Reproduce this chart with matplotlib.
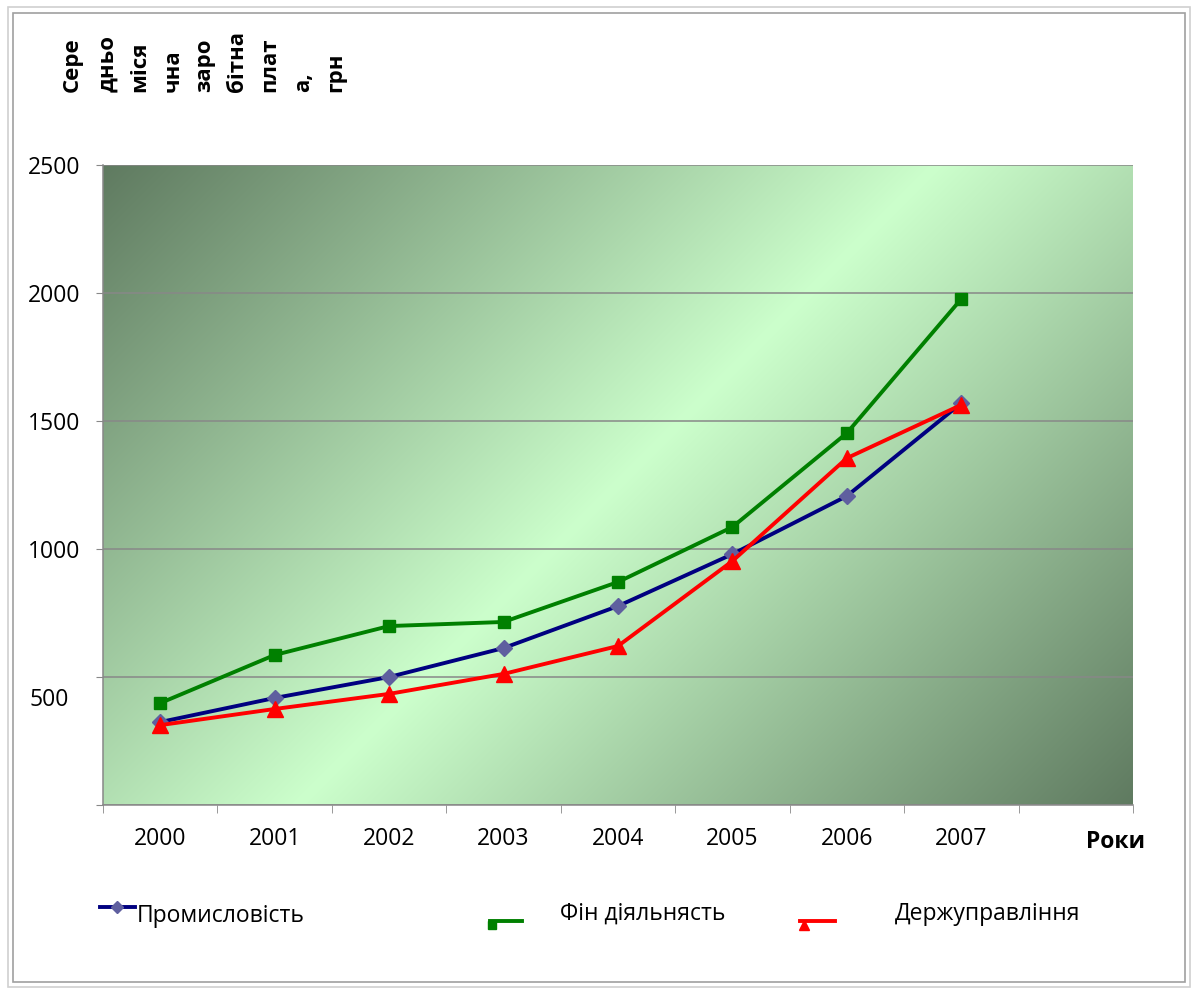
import numpy as np
import matplotlib
matplotlib.use('Agg')
import matplotlib.pyplot as plt
import matplotlib.transforms as mtrans
from matplotlib.lines import Line2D
from matplotlib.patches import Rectangle

plt.rcParams['font.family'] = ['Open Sans', 'DejaVu Sans']

# data
years = ['2000', '2001', '2002', '2003', '2004', '2005', '2006', '2007']
prom = [324, 418, 500, 613, 777, 980, 1207, 1570]
fin = [398, 586, 699, 715, 871, 1086, 1453, 1977]
derzh = [312, 375, 434, 512, 621, 953, 1355, 1563]
y_ticks = [0, 500, 1000, 1500, 2000, 2500]
y_labels = ['', '500', '1000', '1500', '2000', '2500']
ylabel_parts = ['Сере', 'дньо', 'міся', 'чна', 'заро', 'бітна', 'плат', 'а,', 'грн']

W, H = 1197, 992


def fx(px):
    return px / W


def fy(py):
    return 1 - py / H


fig = plt.figure(figsize=(W / 100, H / 100), dpi=100)
fig.patch.set_facecolor('white')
ax = fig.add_axes([fx(103), fy(805), fx(1133) - fx(103), fy(165) - fy(805)])

# diagonal gradient background of the plot area
nx, ny = 1030, 640
gx = np.linspace(-515, 515, nx)
gy = np.linspace(-320, 320, ny)
GX, GY = np.meshgrid(gx, gy)
u = np.clip(np.abs(GX + GY) / 835.0, 0, 1)[..., None]
light = np.array([204, 255, 204]) / 255
dark = np.array([95, 122, 96]) / 255
img = light + (dark - light) * u
ax.imshow(img, extent=[0, 1, 0, 1], transform=ax.transAxes, aspect='auto',
          origin='upper', zorder=0)

x = np.arange(len(years))
ax.plot(x, prom, color='#000080', lw=2.8, marker='D', ms=8.5,
        mfc='#5f5f9f', mec='#5f5f9f', zorder=3)
ax.plot(x, fin, color='#008000', lw=2.8, marker='s', ms=8.5,
        mfc='#008000', mec='#008000', zorder=4)
ax.plot(x, derzh, color='#ff0000', lw=2.8, marker='^', ms=11,
        mfc='#ff0000', mec='#ff0000', zorder=5)

ax.set_xlim(-0.5, 8.5)
ax.set_ylim(0, 2500)
ax.set_yticks(y_ticks)
ax.set_yticklabels(y_labels, fontsize=16.5)
ax.yaxis.grid(True, color='#888888', lw=1.1)
ax.set_axisbelow(False)
for gl in ax.get_ygridlines():
    gl.set_zorder(1)

ax.set_xticks(x)
ax.set_xticklabels(years, fontsize=16.5)
ax.set_xticks(np.arange(-0.5, 9.0, 1.0), minor=True)
ax.tick_params(axis='x', which='major', length=0, pad=16)
ax.tick_params(axis='x', which='minor', length=6, color='#888888', direction='out')
ax.tick_params(axis='y', length=5, color='#888888', direction='out', pad=11)

# the "500" label sits lower and further left in the original
lab500 = ax.get_yticklabels()[1]
lab500.set_transform(lab500.get_transform() +
                     mtrans.ScaledTranslation(-12 / 100, -20 / 100, fig.dpi_scale_trans))

for side in ['top', 'right']:
    ax.spines[side].set_visible(False)
for side in ['left', 'bottom']:
    ax.spines[side].set_color('#888888')
    ax.spines[side].set_linewidth(1.1)

# wrapped vertical axis title
col_x = [72, 108, 140, 173, 205, 237, 270, 304, 336]
for part, cx in zip(ylabel_parts, col_x):
    fig.text(fx(cx), fy(92), part, rotation=90, ha='center', va='bottom',
             fontsize=16, fontweight='bold')

fig.text(fx(1115), fy(842), 'Роки', ha='center', va='center',
         fontsize=16.5, fontweight='bold')

# legend drawn by hand to follow the original layout
t = fig.transFigure
fig.add_artist(Line2D([fx(100), fx(135)], [fy(907), fy(907)], color='#000080',
                      lw=2.8, transform=t))
fig.add_artist(Line2D([fx(117)], [fy(907)], marker='D', ms=6, color='#5f5f9f',
                      transform=t))
fig.text(fx(137), fy(916), 'Промисловість', ha='left', va='center', fontsize=16.5)

fig.add_artist(Line2D([fx(490), fx(522)], [fy(921), fy(921)], color='#008000',
                      lw=2.8, transform=t))
fig.add_artist(Line2D([fx(492)], [fy(925)], marker='s', ms=6, color='#008000',
                      transform=t))
fig.text(fx(560), fy(914), 'Фін діяльнясть', ha='left', va='center', fontsize=16.5)

fig.add_artist(Line2D([fx(800), fx(835)], [fy(921), fy(921)], color='#ff0000',
                      lw=2.8, transform=t))
fig.add_artist(Line2D([fx(804)], [fy(925)], marker='^', ms=7, color='#ff0000',
                      transform=t))
fig.text(fx(895), fy(914), 'Держуправління', ha='left', va='center', fontsize=16.5)

# outer chart border
fig.add_artist(Rectangle((fx(8), fy(987)), fx(1190) - fx(8), fy(7) - fy(987),
                         fill=False, ec='#d0d0d0', lw=1.2, transform=t))
fig.add_artist(Rectangle((fx(13), fy(982)), fx(1185) - fx(13), fy(13) - fy(982),
                         fill=False, ec='#a0a0a0', lw=1.2, transform=t))

fig.savefig('out.png', dpi=100)
